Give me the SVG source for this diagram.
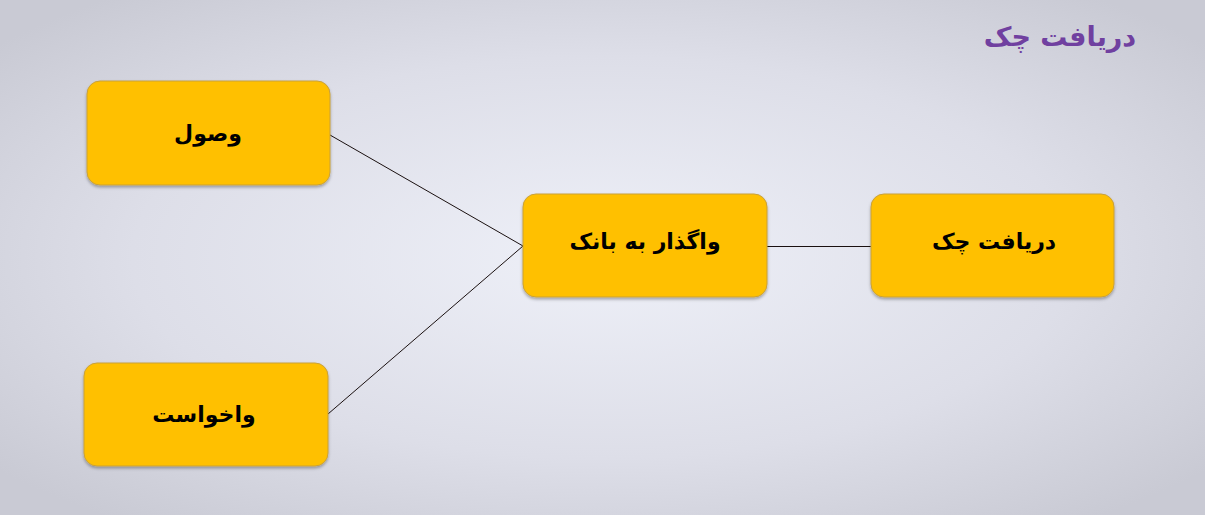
<svg xmlns="http://www.w3.org/2000/svg" width="1205" height="515" viewBox="0 0 1205 515">
<defs>
<radialGradient id="bg" cx="0.5" cy="0.5" r="0.65">
<stop offset="0" stop-color="#eef0f8"/>
<stop offset="0.6" stop-color="#dddee8"/>
<stop offset="1" stop-color="#c9cad4"/>
</radialGradient>
<filter id="sh" x="-10%" y="-10%" width="120%" height="130%">
<feDropShadow dx="0" dy="2" stdDeviation="1.5" flood-color="#000" flood-opacity="0.3"/>
</filter>
</defs>
<style>
.box{fill:#ffc000;stroke:#c9a13a;stroke-width:1;filter:url(#sh)}
.lbl{font-family:"DejaVu Sans","Noto Sans",sans-serif;font-weight:bold;font-size:22px;fill:#000;text-anchor:middle;dominant-baseline:central}
.con{stroke:#1a1010;stroke-width:1;fill:none}
.title{font-family:"DejaVu Sans","Noto Sans",sans-serif;font-weight:bold;font-size:27px;fill:#7040a0;text-anchor:middle}
</style>
<rect width="1205" height="515" fill="url(#bg)"/>
<text class="title" x="1060" y="46" direction="rtl">دریافت چک</text>
<g id="connectors">
<line class="con" x1="330" y1="135" x2="523" y2="246"/>
<line class="con" x1="328" y1="414" x2="523" y2="246"/>
<line class="con" x1="767" y1="246.5" x2="871" y2="246.5"/>
</g>
<g id="node-vosul">
<rect class="box" x="87" y="81" width="243" height="104" rx="13"/>
<text class="lbl" x="208" y="133" direction="rtl">وصول</text>
</g>
<g id="node-vakhast">
<rect class="box" x="84" y="363" width="244" height="103" rx="13"/>
<text class="lbl" x="204" y="414" direction="rtl">واخواست</text>
</g>
<g id="node-vagozar">
<rect class="box" x="523" y="194" width="244" height="103" rx="13"/>
<text class="lbl" x="645" y="241" direction="rtl">واگذار به بانک</text>
</g>
<g id="node-daryaft">
<rect class="box" x="871" y="194" width="243" height="103" rx="13"/>
<text class="lbl" x="994" y="241" direction="rtl">دریافت چک</text>
</g>
</svg>
